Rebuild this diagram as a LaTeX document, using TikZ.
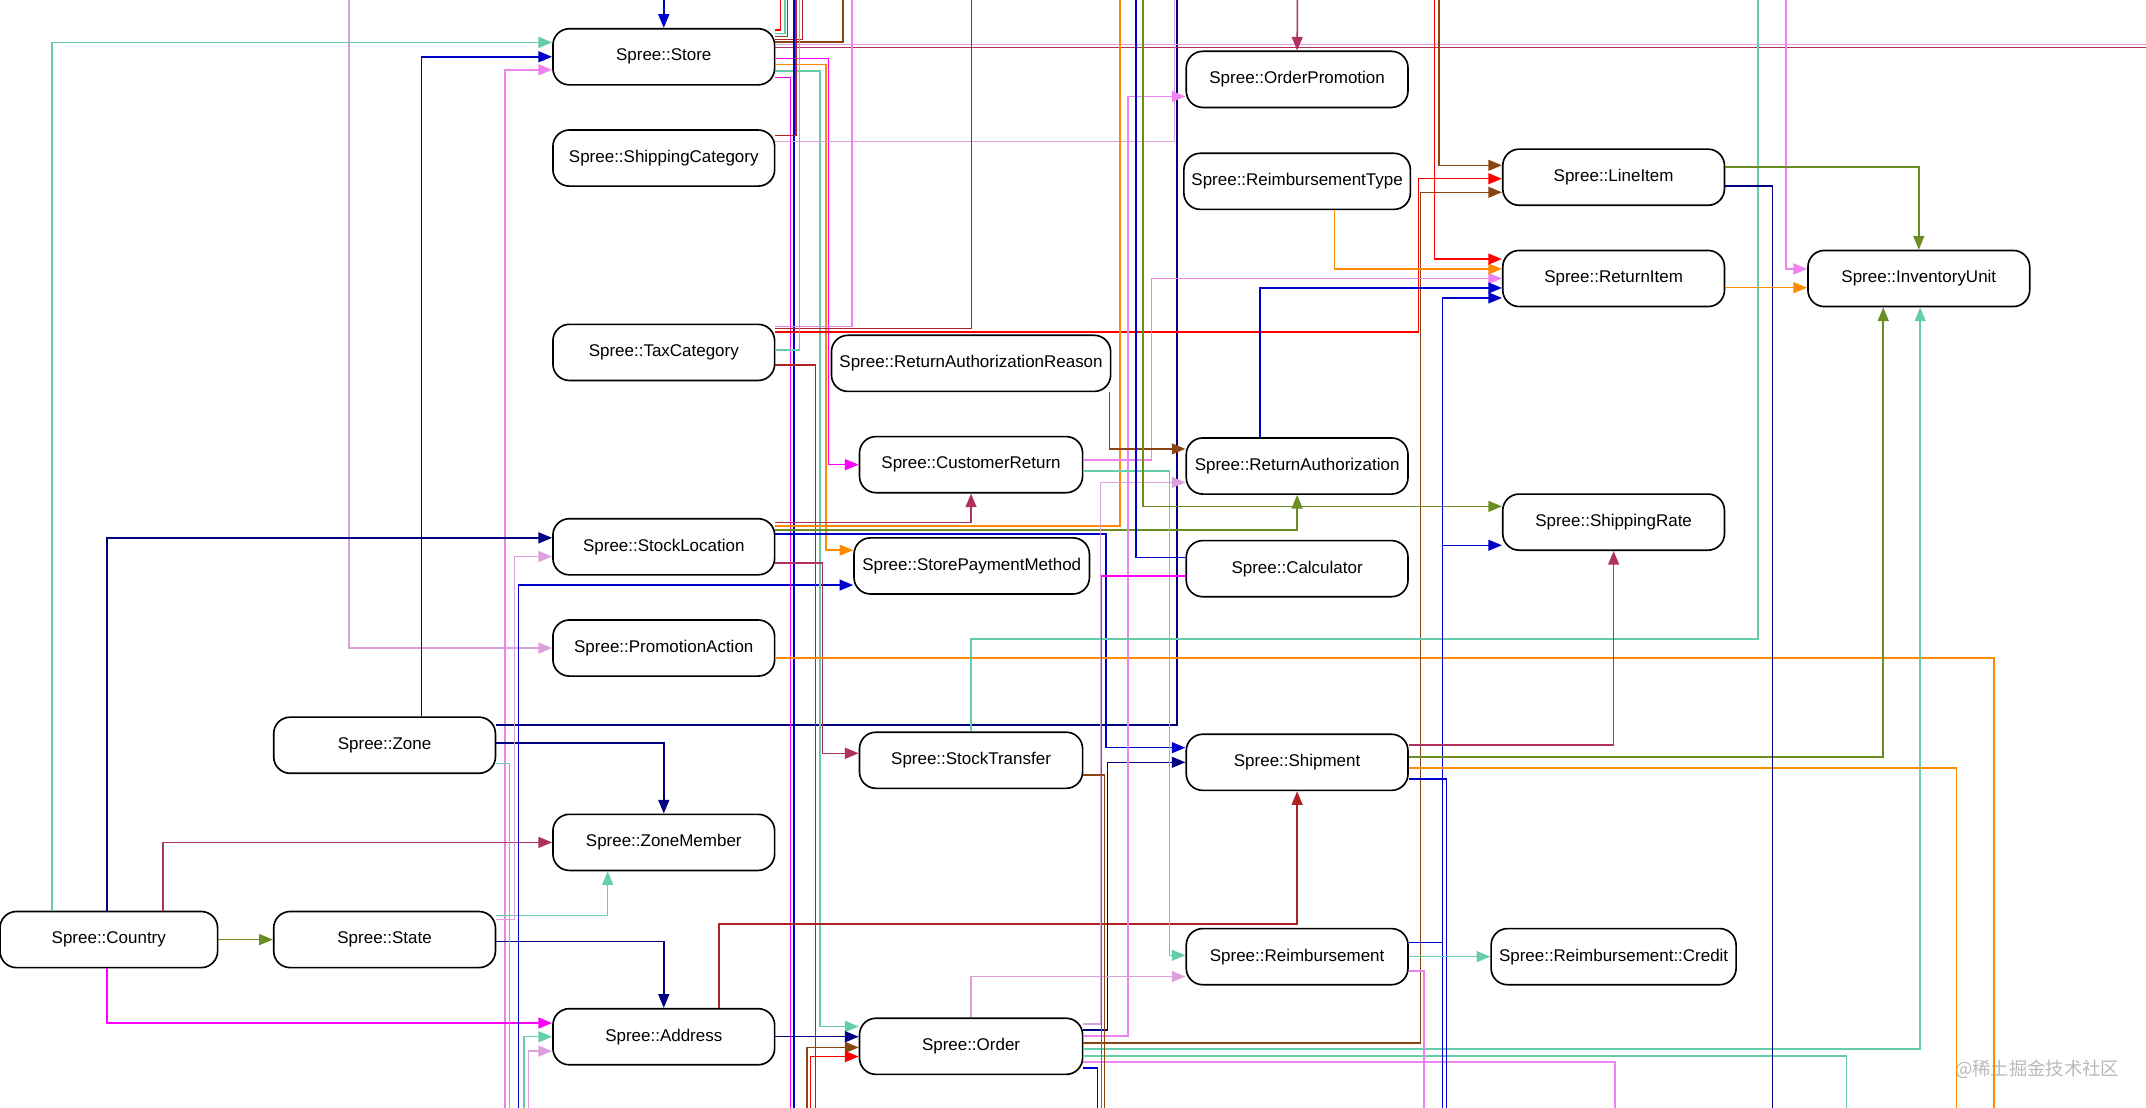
\documentclass[tikz,border=0pt]{standalone}
\usepackage{fontspec}
\setmainfont{Liberation Sans}
\newfontfamily\cjkfont{Noto Sans CJK SC}
\usetikzlibrary{arrows.meta}
\definecolor{cblue}{HTML}{0000CD}
\definecolor{cnavy}{HTML}{000080}
\definecolor{caqua}{HTML}{66CDAA}
\definecolor{cviolet}{HTML}{EE82EE}
\definecolor{cplum}{HTML}{DDA0DD}
\definecolor{cmagenta}{HTML}{FF00FF}
\definecolor{corange}{HTML}{FF8C00}
\definecolor{colive}{HTML}{6B8E23}
\definecolor{cmaroon}{HTML}{B03060}
\definecolor{cfire}{HTML}{B22222}
\definecolor{cbrown}{HTML}{8B4513}
\definecolor{cred}{HTML}{FF0000}
\begin{document}
\begin{tikzpicture}[x=0.5pt,y=-0.5pt,
  mbox/.style={draw=black, fill=white, line width=0.6pt, rounded corners=6pt,
    minimum height=20.5pt, minimum width=81pt, inner sep=0pt,
    font=\fontsize{6.2}{7}\selectfont},
  ed/.style={line width=0.55pt},
  ar/.style={ed, -{Triangle[length=5pt,width=4pt]}}]
\useasboundingbox (0,0) rectangle (1568,809.57);

% nodes
\node[mbox] (store) at (485,41.5) {Spree::Store};
\node[mbox] (shipcat) at (485,115.5) {Spree::ShippingCategory};
\node[mbox] (taxcat) at (485,257.5) {Spree::TaxCategory};
\node[mbox] (stockloc) at (485,399.5) {Spree::StockLocation};
\node[mbox] (promoact) at (485,473.5) {Spree::PromotionAction};
\node[mbox] (zonemember) at (485,615.5) {Spree::ZoneMember};
\node[mbox] (address) at (485,757.5) {Spree::Address};
\node[mbox] (zone) at (281,544.5) {Spree::Zone};
\node[mbox] (state) at (281,686.5) {Spree::State};
\node[mbox, minimum width=79.5pt] (country) at (79.5,686.5) {Spree::Country};
\node[mbox, minimum width=102pt] (rar) at (709.5,265.5) {Spree::ReturnAuthorizationReason};
\node[mbox, minimum width=81.5pt] (custret) at (709.5,339.5) {Spree::CustomerReturn};
\node[mbox, minimum width=86pt] (storepm) at (710,413.5) {Spree::StorePaymentMethod};
\node[mbox, minimum width=81.5pt] (stocktransfer) at (709.5,555.5) {Spree::StockTransfer};
\node[mbox, minimum width=81.5pt] (order) at (709.5,764.5) {Spree::Order};
\node[mbox] (orderpromo) at (947.75,58) {Spree::OrderPromotion};
\node[mbox, minimum width=82.75pt] (reimbtype) at (947.75,132.5) {Spree::ReimbursementType};
\node[mbox] (retauth) at (947.75,340.5) {Spree::ReturnAuthorization};
\node[mbox] (calc) at (947.75,415.5) {Spree::Calculator};
\node[mbox] (shipment) at (947.75,557) {Spree::Shipment};
\node[mbox] (reimb) at (947.75,699) {Spree::Reimbursement};
\node[mbox] (lineitem) at (1179,129.5) {Spree::LineItem};
\node[mbox] (returnitem) at (1179,203.5) {Spree::ReturnItem};
\node[mbox] (shiprate) at (1179,381.5) {Spree::ShippingRate};
\node[mbox, minimum width=89.5pt] (credit) at (1179,699) {Spree::Reimbursement::Credit};
\node[mbox] (invunit) at (1402,203.5) {Spree::InventoryUnit};
\node[font=\cjkfont\fontsize{6.7}{7}\selectfont, text=gray!55] (wm) at (1488.5,781) {@稀土掘金技术社区};

% free ends on the picture border
\foreach \n/\x in {485/485,255/255,570/570.4,573/573.6,575/575.5,586/586.5,616/616,580/580,
  581/581.5,858/858,622/622.5,710/710,584/584,818/818.3,860/860,830/830,948/948,835/835,
  1051/1051.5,1048/1048,1305/1305,1284/1284.5}
  \coordinate (t\n) at (\x,0);
\foreach \n/\x in {369/369,372/372.4,379/379,382/382.7,386/386,577/577.7,580/580,596/596,
  1457/1457,589/589.8,592/592.2,1349/1349,1180/1180,802/802,807/807,804/804.7,1054/1054,
  1429/1429.5,1057/1057,1040/1040.5,1295/1295}
  \coordinate (b\n) at (\x,809.57);
\coordinate (r32) at (1568,32.4);
\coordinate (r35) at (1568,34.8);

% left part
\draw[ar,cblue] (t485) -- (store.north);
\draw[ar,cplum] (t255) |- (promoact.west);
\draw[ar,cviolet] (b369) |- (store.west |- 0,51);
\draw[ar,caqua] (country.north -| 38,0) |- (store.west |- 0,31);
\draw[ar,cblue] (zone.north -| 308,0) |- (store.west);
\draw[ar,cnavy] (country.north -| 78,0) |- (stockloc.west |- 0,393);
\draw[ar,cmaroon] (country.north -| 119,0) |- (zonemember.west);
\draw[ar,colive] (country.east) -- (state.west);
\draw[ar,cmagenta] (country.south -| 78,0) |- (address.west |- 0,747.5);
\draw[ar,cnavy] (zone.east |- 0,543) -| (zonemember.north);
\draw[ar,cnavy] (state.east |- 0,688) -| (address.north);
\draw[ar,caqua] (state.east |- 0,669) -| (zonemember.south -| 444,0);
\draw[ed,cnavy] (zone.east |- 0,529.8) -| (t860);
\draw[ed,caqua] (zone.east |- 0,558) -| (b372);
\draw[ar,cplum] (state.east |- 0,672) -| (376,406.6) -- (stockloc.west |- 0,406.6);
\draw[ar,cblue] (b379) |- (storepm.west |- 0,427.5);
\draw[ar,caqua] (b382) |- (address.west);
\draw[ar,cplum] (b386) |- (address.west |- 0,768);

% Store right side
\draw[ed,cred] (store.east |- 0,22) -| (t570);
\draw[ed,caqua] (store.east |- 0,24.4) -| (t573);
\draw[ed,cbrown] (store.east |- 0,26.5) -| (t575);
\draw[ed,cfire] (store.east |- 0,28.7) -| (t586);
\draw[ed,cbrown] (store.east |- 0,30.7) -| (t616);
\draw[ed,cplum] (store.east |- 0,32.4) -- (r32);
\draw[ed,cmaroon] (store.east |- 0,34.8) -- (r35);
\draw[ar,cmagenta] (store.east |- 0,42.6) -| (605.5,339.5) -- (custret.west);
\draw[ar,corange] (store.east |- 0,47) -| (603.5,402) -- (storepm.west |- 0,402);
\draw[ar,caqua] (store.east |- 0,52) -| (599,750) -- (order.west |- 0,750);
\draw[ed,cmagenta] (store.east |- 0,56.7) -| (b577);
\draw[ed,cblue] (t580) -- (b580);

% ShippingCategory / TaxCategory
\draw[ed,cfire] (shipcat.east |- 0,99) -| (t581);
\draw[ed,cplum] (shipcat.east |- 0,103.5) -| (t858);
\draw[ed,cviolet] (taxcat.east |- 0,238.6) -| (t622);
\draw[ed,cfire] (taxcat.east |- 0,240.2) -| (t710);
\draw[ar,cred] (taxcat.east |- 0,242.7) -| (1036.5,130.6) -- (lineitem.west |- 0,130.6);
\draw[ed,caqua] (taxcat.east |- 0,255.6) -| (t584);
\draw[ed,cfire] (taxcat.east |- 0,266.7) -| (b596);

% StockLocation / PromotionAction
\draw[ar,cmaroon] (stockloc.east |- 0,381.7) -| (custret.south);
\draw[ed,corange] (stockloc.east |- 0,384.4) -| (t818);
\draw[ar,colive] (stockloc.east |- 0,387.3) -| (retauth.south);
\draw[ar,cblue] (stockloc.east |- 0,390.2) -| (808,546.3) -- (shipment.west |- 0,546.3);
\draw[ar,cmaroon] (stockloc.east |- 0,411.2) -| (601,550.4) -- (stocktransfer.west |- 0,550.4);
\draw[ed,corange] (promoact.east |- 0,480.7) -| (b1457);

% Address / Order
\draw[ar,cfire] (address.north -| 525.5,0) |- (shipment.south |- 0,675) -- (shipment.south);
\draw[ar,cnavy] (address.east) -- (order.west |- address.east);
\draw[ar,cbrown] (b589) |- (order.west |- 0,765.3);
\draw[ar,cred] (b592) |- (order.west |- 0,772);
\draw[ar,cplum] (order.east |- 0,748.3) -| (804,352.5) -- (retauth.west |- 0,352.5);
\draw[ar,cnavy] (order.east |- 0,752.6) -| (809.3,557) -- (shipment.west);
\draw[ar,cviolet] (order.east |- 0,757) -| (824,70.5) -- (orderpromo.west |- 0,70.5);
\draw[ar,cbrown] (order.east |- 0,762) -| (1038,140.5) -- (lineitem.west |- 0,140.5);
\draw[ar,caqua] (order.east |- 0,766.5) -| (invunit.south -| 1403,0);
\draw[ed,caqua] (order.east |- 0,771.4) -| (b1349);
\draw[ed,cviolet] (order.east |- 0,776) -| (b1180);
\draw[ed,cblue] (order.east |- 0,780.4) -| (b802);
\draw[ar,cplum] (order.north) |- (reimb.west |- 0,713.5);

% StockTransfer / CustomerReturn / RAR / Calculator
\draw[ed,caqua] (stocktransfer.north) |- (t1284 |- 0,467) -- (t1284);
\draw[ed,cbrown] (stocktransfer.east |- 0,566.3) -| (b807);
\draw[ar,cviolet] (custret.east |- 0,336) -| (841.5,203.5) -- (returnitem.west |- 0,203.5);
\draw[ar,caqua] (custret.east |- 0,344) -| (854.4,698) -- (reimb.west |- 0,698);
\draw[ar,cbrown] (rar.south -| 810.5,0) |- (retauth.west |- 0,328);
\draw[ed,cblue] (calc.west |- 0,407.4) -| (t830);
\draw[ed,cmagenta] (calc.west |- 0,421) -| (b804);

% right part
\draw[ar,corange] (reimbtype.south -| 975,0) |- (returnitem.west |- 0,196.5);
\draw[ar,cblue] (retauth.north -| 920.5,0) |- (returnitem.west |- 0,210.4);
\draw[ar,cmaroon] (t948) -- (orderpromo.north);
\draw[ar,colive] (t835) |- (shiprate.west |- 0,370);
\draw[ar,cbrown] (t1051) |- (lineitem.west |- 0,120.8);
\draw[ar,cred] (t1048) |- (returnitem.west |- 0,189.3);
\draw[ar,cviolet] (t1305) |- (invunit.west |- 0,196.5);
\draw[ar,cblue] (reimb.east |- 0,688.8) -| (1054,217.7) -- (returnitem.west |- 0,217.7);
\draw[ar,cblue] (b1054) |- (shiprate.west |- 0,398.4);
\draw[ar,cmaroon] (shipment.east |- 0,544.5) -| (shiprate.south);
\draw[ar,colive] (shipment.east |- 0,553) -| (invunit.south -| 1376,0);
\draw[ed,corange] (shipment.east |- 0,561.3) -| (b1429);
\draw[ed,cblue] (shipment.east |- 0,569.3) -| (b1057);
\draw[ar,caqua] (reimb.east) -- (credit.west);
\draw[ed,cviolet] (reimb.east |- 0,709.5) -| (b1040);
\draw[ar,colive] (lineitem.east |- 0,122) -| (invunit.north);
\draw[ed,cnavy] (lineitem.east |- 0,135.8) -| (b1295);
\draw[ar,corange] (returnitem.east |- 0,210.2) -- (invunit.west |- 0,210.2);
\end{tikzpicture}
\end{document}
